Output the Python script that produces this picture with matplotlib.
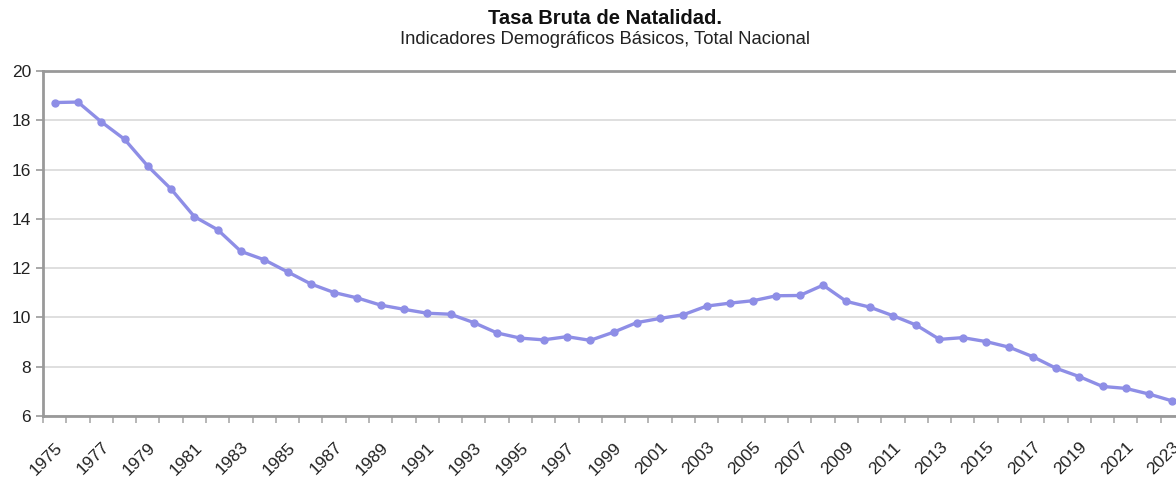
import numpy as np
import matplotlib.pyplot as plt

plt.rcParams['font.family'] = ['Liberation Sans', 'DejaVu Sans']

years = list(range(1975, 2024))
tasa = [18.72, 18.74, 17.94, 17.23, 16.14, 15.21, 14.09, 13.56, 12.68, 12.34,
        11.85, 11.36, 11.01, 10.79, 10.50, 10.33, 10.17, 10.13, 9.79, 9.37,
        9.16, 9.09, 9.22, 9.07, 9.40, 9.79, 9.96, 10.11, 10.46, 10.58,
        10.68, 10.88, 10.89, 11.31, 10.65, 10.42, 10.07, 9.69, 9.11, 9.18,
        9.02, 8.79, 8.41, 7.94, 7.60, 7.20, 7.12, 6.89, 6.61]
yticks = [6, 8, 10, 12, 14, 16, 18, 20]

title = 'Tasa Bruta de Natalidad.'
subtitle = 'Indicadores Demográficos Básicos, Total Nacional'

fig = plt.figure(figsize=(11.76, 4.78), dpi=100)
ax = fig.add_axes([43 / 1176, 62 / 478, 1141 / 1176, 345 / 478])

x = np.arange(len(years))
ax.plot(x, tasa, color='#8e8ee6', lw=2.4, marker='o', ms=5,
        markerfacecolor='#8e8ee6', markeredgecolor='#8e8ee6', zorder=3)

ax.set_xlim(-0.5, len(years) - 0.5)
ax.set_ylim(6, 20)
ax.set_yticks(yticks)
ax.yaxis.grid(True, color='#d9d9d9', lw=1.2)
ax.set_axisbelow(True)

ax.set_xticks(x[::2])
ax.set_xticklabels([str(y) for y in years[::2]], rotation=45, ha='right',
                   rotation_mode='anchor', fontsize=12.5, color='#222222')
ax.set_xticks(np.arange(-0.5, len(years)), minor=True)
ax.tick_params(axis='x', which='major', length=0, pad=17)
ax.tick_params(axis='x', which='minor', length=5, width=1.2, color='#aaaaaa')
ax.tick_params(axis='y', length=5, width=1.2, color='#999999',
               labelsize=12.5, labelcolor='#222222')

for side in ['left', 'bottom', 'top', 'right']:
    ax.spines[side].set_color('#999999')
    ax.spines[side].set_linewidth(2)

fig.text(605 / 1176, 1 - 18 / 478, title, ha='center', va='center',
         fontsize=14.5, fontweight='bold', color='#111111')
fig.text(605 / 1176, 1 - 40 / 478, subtitle, ha='center', va='center',
         fontsize=13.3, color='#222222')

fig.savefig('out.png', dpi=100)
